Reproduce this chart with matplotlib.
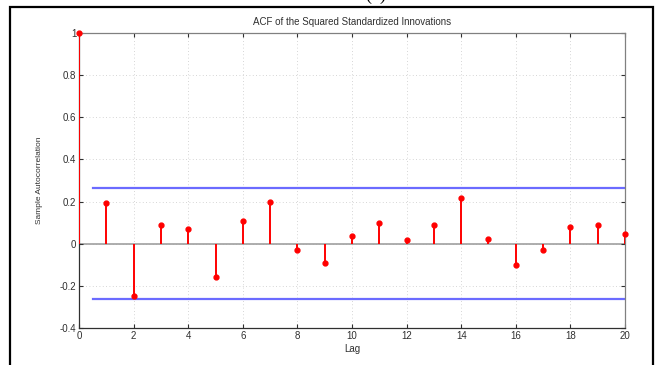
import matplotlib.pyplot as plt
from matplotlib.patches import Rectangle

lags = list(range(0, 21))
acf = [1.0, 0.195, -0.246, 0.09, 0.069, -0.158, 0.107, 0.199, -0.028, -0.091,
       0.038, 0.099, 0.019, 0.09, 0.216, 0.02, -0.099, -0.031, 0.077, 0.091, 0.047]
bound = 0.263
x_ticks = list(range(0, 21, 2))
y_ticks = [-0.4, -0.2, 0, 0.2, 0.4, 0.6, 0.8, 1]
y_labels = ['-0.4', '-0.2', '0', '0.2', '0.4', '0.6', '0.8', '1']

plt.rcParams['font.family'] = ['Liberation Sans', 'DejaVu Sans']

fig = plt.figure(figsize=(6.56, 3.65), dpi=100)
W, H = 656, 365
ax = fig.add_axes([79 / W, 1 - 328 / H, (625 - 79) / W, (328 - 33) / H])

# grid
for x in x_ticks[1:-1]:
    ax.axvline(x, color='#c8c8c8', lw=0.6, ls=(0, (1, 3)), zorder=0)
for y in y_ticks[1:-1]:
    ax.axhline(y, color='#c8c8c8', lw=0.6, ls=(0, (1, 3)), zorder=0)

ax.axhline(0, color='#a0a0a0', lw=1.2, zorder=1)
ax.plot([0.5, 20], [bound, bound], color='#6b6bff', lw=1.6, zorder=2)
ax.plot([0.5, 20], [-bound, -bound], color='#6b6bff', lw=1.6, zorder=2)

ax.vlines(lags, 0, acf, color='#ff0000', lw=1.4, zorder=3)
ax.plot(lags, acf, 'o', color='#ff0000', ms=3.5, zorder=4, clip_on=False)

ax.set_xlim(0, 20)
ax.set_ylim(-0.4, 1)
ax.set_xticks(x_ticks)
ax.set_yticks(y_ticks)
ax.set_yticklabels(y_labels)
ax.tick_params(direction='in', length=3, labelsize=7, colors='#303030',
               top=True, right=True, pad=2)
for s in ['top', 'right']:
    ax.spines[s].set_color('#808080')
for s in ['left', 'bottom']:
    ax.spines[s].set_color('#303030')
for s in ax.spines.values():
    s.set_linewidth(0.9)

ax.set_title('ACF of the Squared Standardized Innovations', fontsize=7, color='#303030', pad=6)
ax.set_xlabel('Lag', fontsize=7, color='#303030', labelpad=2)
ax.set_ylabel('Sample Autocorrelation', fontsize=6, color='#303030', labelpad=12)

# outer frame, bottom edge off the canvas
fig.patches.append(Rectangle((10 / W, -0.05), (653 - 10) / W, 1.05 - 7 / H,
                             transform=fig.transFigure, fill=False,
                             edgecolor='black', lw=1.6))
fig.text(376 / W, 1 - 4 / H, '(b)', ha='center', va='bottom', fontsize=13,
         family='Liberation Serif')

plt.savefig('out.png', dpi=100)
